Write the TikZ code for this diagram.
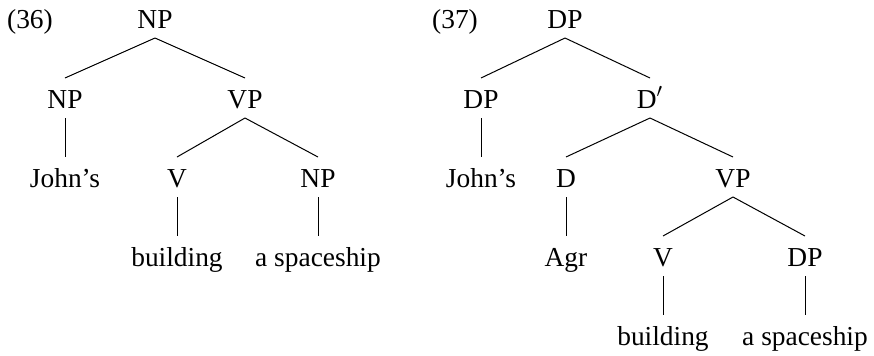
\documentclass[tikz,border=0pt]{standalone}
\usepackage{fontspec}
\setmainfont{Liberation Serif}
\begin{document}
\begin{tikzpicture}[x=0.5pt,y=-0.5pt,
  cat/.style={anchor=base,inner sep=0pt,outer sep=0pt,
    text height=15pt,text depth=5pt,font=\fontsize{13.7}{16}\selectfont},
  branch/.style={draw=black,line width=0.5pt}]
\useasboundingbox (0,0) rectangle (874,355);

% (36): NP with an NP specifier and a VP
\node[cat] (a0)   at (30,28)   {(36)};
\node[cat] (a)    at (155,28)  {NP};
\node[cat] (a1)   at (65,108)  {NP};
\node[cat] (a2)   at (245,108) {VP};
\node[cat] (a11)  at (65,187)  {John's};
\node[cat] (a21)  at (177,187) {V};
\node[cat] (a22)  at (318,187) {NP};
\node[cat] (a211) at (177,266) {building};
\node[cat] (a221) at (318,266) {a spaceship};

\draw[branch] (a.south) -- (a1.north);
\draw[branch] (a.south) -- (a2.north);
\draw[branch] (a1.south) -- (a11.north);
\draw[branch] (a2.south) -- (a21.north);
\draw[branch] (a2.south) -- (a22.north);
\draw[branch] (a21.south) -- (a211.north);
\draw[branch] (a22.south) -- (a221.north);

% (37): DP with an Agr head
\node[cat] (b0)    at (455,28)  {(37)};
\node[cat] (b)     at (565,28)  {DP};
\node[cat] (b1)    at (481,108) {DP};
\node[cat] (b2)    at (650,108) {D$'$};
\node[cat] (b11)   at (481,187) {John's};
\node[cat] (b21)   at (566,187) {D};
\node[cat] (b22)   at (733,187) {VP};
\node[cat] (b211)  at (566,266) {Agr};
\node[cat] (b221)  at (663,266) {V};
\node[cat] (b222)  at (805,266) {DP};
\node[cat] (b2211) at (663,345) {building};
\node[cat] (b2221) at (805,345) {a spaceship};

\draw[branch] (b.south) -- (b1.north);
\draw[branch] (b.south) -- (b2.north);
\draw[branch] (b1.south) -- (b11.north);
\draw[branch] (b2.south) -- (b21.north);
\draw[branch] (b2.south) -- (b22.north);
\draw[branch] (b21.south) -- (b211.north);
\draw[branch] (b22.south) -- (b221.north);
\draw[branch] (b22.south) -- (b222.north);
\draw[branch] (b221.south) -- (b2211.north);
\draw[branch] (b222.south) -- (b2221.north);
\end{tikzpicture}
\end{document}
